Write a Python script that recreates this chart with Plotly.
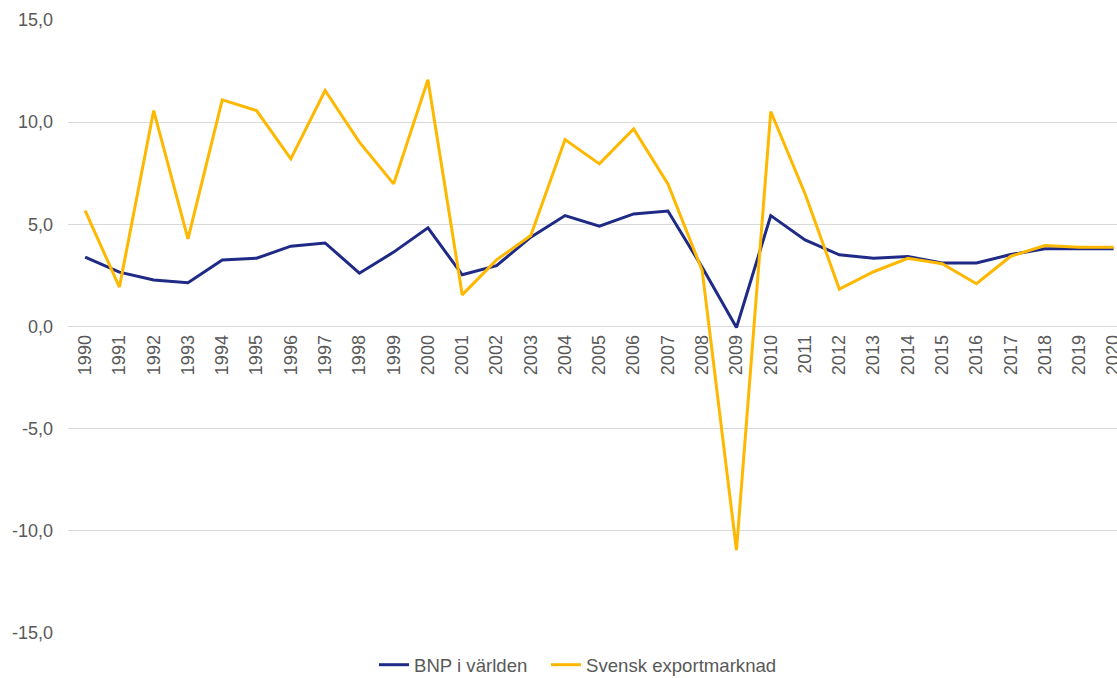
import plotly.graph_objects as go

years = [str(y) for y in range(1990, 2021)]
bnp_varlden = [3.39, 2.66, 2.28, 2.14, 3.26, 3.34, 3.93, 4.09, 2.61, 3.64, 4.83,
               2.53, 2.98, 4.37, 5.43, 4.91, 5.51, 5.65, 2.9, -0.05, 5.43,
               4.24, 3.51, 3.34, 3.42, 3.11, 3.11, 3.52, 3.8, 3.8, 3.8]
svensk_exportmarknad = [5.67, 1.93, 10.57, 4.29, 11.09, 10.57, 8.2, 11.55, 9.02, 6.98, 12.08,
                        1.55, 3.26, 4.45, 9.15, 7.96, 9.67, 6.98, 2.74, -10.95, 10.52,
                        6.5, 1.83, 2.68, 3.34, 3.07, 2.09, 3.44, 3.96, 3.88, 3.88]
y_ticks = [-15, -10, -5, 0, 5, 10, 15]
y_ticktext = [f"{v:.1f}".replace(".", ",") for v in y_ticks]

FONT = "Liberation Sans, Arial, sans-serif"
GRAY_TXT = "#595959"

fig = go.Figure()
fig.add_trace(go.Scatter(x=years, y=bnp_varlden, mode="lines", name="BNP i världen",
                         line=dict(color="#1E2A86", width=3), legend="legend"))
fig.add_trace(go.Scatter(x=years, y=svensk_exportmarknad, mode="lines", name="Svensk exportmarknad",
                         line=dict(color="#FFB800", width=3), legend="legend2"))

legend_common = dict(orientation="h", xanchor="left", xref="container",
                     y=0.019, yref="container", yanchor="middle",
                     font=dict(family=FONT, size=18.6, color=GRAY_TXT),
                     itemwidth=30, bgcolor="rgba(0,0,0,0)")

fig.update_layout(
    width=1117, height=678,
    margin=dict(l=68, r=0, t=20, b=45, autoexpand=False),
    paper_bgcolor="white", plot_bgcolor="white",
    font=dict(family=FONT, size=18, color=GRAY_TXT),
    showlegend=True,
    legend=dict(x=374 / 1117, **legend_common),
    legend2=dict(x=546 / 1117, **legend_common),
    xaxis=dict(type="category", range=[-0.5, 30.1], tickangle=-90,
               anchor="free", position=0.5, showgrid=False, showline=False,
               zeroline=False, ticks="", dtick=1, automargin=False,
               tickfont=dict(family=FONT, size=18, color=GRAY_TXT),
               ticklabelstandoff=4),
    yaxis=dict(range=[-15, 15], tickvals=y_ticks, ticktext=y_ticktext,
               showgrid=True, gridcolor="#D9D9D9", gridwidth=1,
               zeroline=False, showline=False, ticks="", automargin=False,
               tickfont=dict(family=FONT, size=18, color=GRAY_TXT),
               ticklabelstandoff=14),
)

fig.write_html("out.html", config={"displayModeBar": False},
               post_script="document.body.style.margin='0';document.body.style.overflow='hidden';")
